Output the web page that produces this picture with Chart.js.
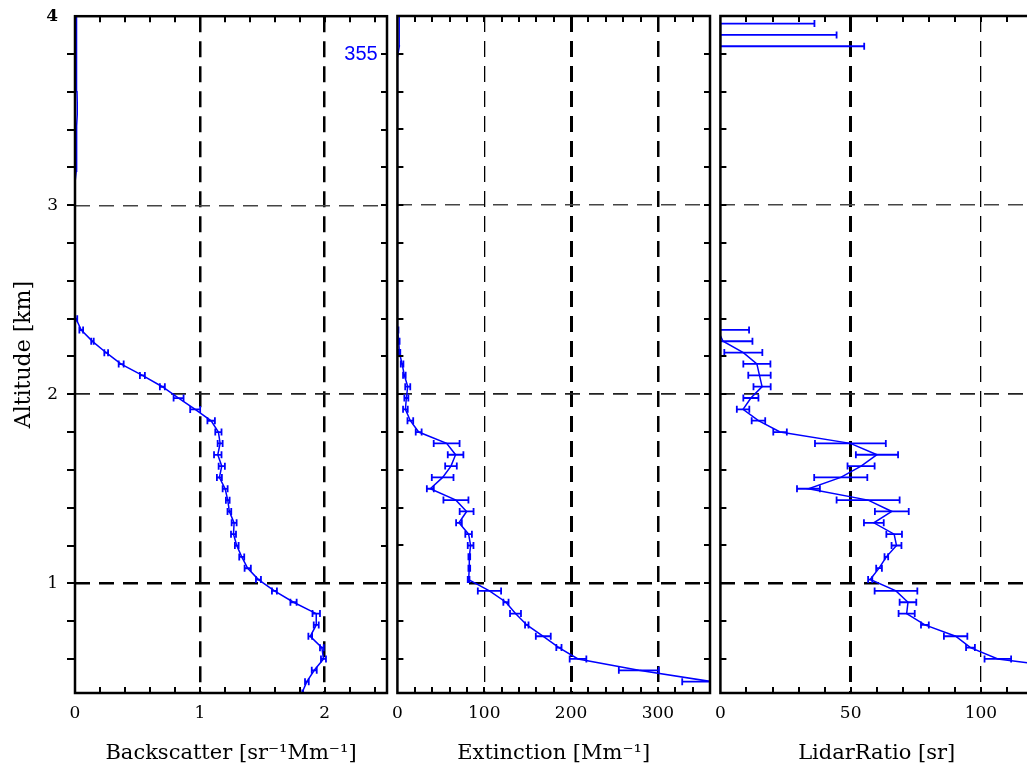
<!DOCTYPE html>
<html>
<head>
<meta charset="utf-8">
<script src="https://cdn.jsdelivr.net/npm/chart.js@4.4.1/dist/chart.umd.min.js"></script>
<style>
  html, body { margin: 0; padding: 0; background: #fff; overflow: hidden; }
  #wrap { position: relative; width: 1027px; height: 769px; overflow: hidden; }
  canvas { position: absolute; }
</style>
</head>
<body>
<div id="wrap">
  <canvas id="bsc" width="392" height="780" style="left:0;top:-11px"></canvas>
  <canvas id="ext" width="333" height="769" style="left:382px;top:0"></canvas>
  <canvas id="lr" width="335" height="769" style="left:705px;top:0"></canvas>
</div>
<script>
// --- data: one row per altitude bin (km) ---------------------------
const altitude = [
  0.42, 0.48, 0.54, 0.60, 0.66, 0.72, 0.78, 0.84, 0.90, 0.96,
  1.02, 1.08, 1.14, 1.20, 1.26, 1.32, 1.38, 1.44, 1.50, 1.56,
  1.62, 1.68, 1.74, 1.80, 1.86, 1.92, 1.98, 2.04, 2.10, 2.16,
  2.22, 2.28, 2.34, 2.40, 2.46, 2.52, 2.58, 2.64, 2.70, 2.76,
  2.82, 2.88, 2.94, 3.00, 3.06, 3.12, 3.18, 3.24, 3.30, 3.36,
  3.42, 3.48, 3.54, 3.60, 3.66, 3.72, 3.78, 3.84, 3.90, 3.96,
  4.02
];

// backscatter [sr-1 Mm-1]
const backscatter = [
  1.818, 1.858, 1.917, 1.991, 1.978, 1.885, 1.933, 1.933, 1.751, 1.598,
  1.470, 1.384, 1.336, 1.296, 1.270, 1.275, 1.237, 1.224, 1.203, 1.157,
  1.176, 1.144, 1.163, 1.149, 1.091, 0.963, 0.830, 0.700, 0.540, 0.370,
  0.250, 0.140, 0.050, 0.008, 0, 0, 0, 0, 0, 0,
  0, 0, 0, 0, 0, 0, 0.010, 0.012, 0.012, 0.013,
  0.015, 0.018, 0.018, 0.016, 0.012, 0.012, 0.013, 0.012, 0.013, 0.012,
  0.012
];
const backscatterErr = [
  0.010, 0.015, 0.020, 0.020, 0.015, 0.015, 0.020, 0.030, 0.025, 0.020,
  0.020, 0.025, 0.020, 0.015, 0.020, 0.020, 0.015, 0.015, 0.020, 0.020,
  0.025, 0.030, 0.020, 0.025, 0.030, 0.040, 0.040, 0.020, 0.020, 0.020,
  0.015, 0.010, 0.015, 0.010
];

// extinction [Mm-1]
const extinction = [
  null, 362, 278, 208, 186, 168, 149, 136, 125, 106,
  82, 82.8, 82.8, 84.3, 82, 70.9, 79.7, 67.4, 37.9, 52.1,
  61.7, 67.0, 56.7, 24.5, 14.9, 9.2, 10.3, 11.9, 8.0, 5.4,
  2.3, 1.5, 0.4, 0, 0, 0, 0, 0, 0, 0,
  0, 0, 0, 0, 0, 0, 0, 0, 0, 0,
  0, 0, 0, 0, 0, 0, 0, 2.2, 2.0, 2.2,
  2.0
];
const extinctionErr = [
  0, 34, 23, 9.6, 3, 8.6, 2, 6.3, 3, 13.4,
  1, 1, 1, 3.3, 3.8, 3.3, 8, 14.4, 4, 12.5,
  6.7, 9, 14.9, 3.4, 3.3, 2.7, 2.3, 2.9, 1.5, 1.5,
  1, 1, 0.8
];

// lidar ratio [sr]
const lidarRatio = [
  null, null, 140, 106.5, 96.0, 90.3, 78.5, 71.5, 72.0, 67.4,
  57.5, 60.9, 63.7, 67.6, 66.7, 58.9, 65.8, 56.7, 33.8, 46.2,
  54.0, 60.1, 49.9, 22.9, 14.6, 8.7, 11.7, 16.0, 15.0, 14.0,
  8.8, 1.0, -1.0, null, null, null, null, null, null, null,
  null, null, null, null, null, null, null, null, null, null,
  null, null, null, null, null, null, null, 0, 0, 0,
  null
];
const lidarRatioErr = [
  0, 0, 0, 5.1, 1.7, 4.5, 1.5, 3.1, 3.2, 8.2,
  0.8, 1.1, 0.7, 1.9, 3.0, 3.8, 6.5, 12.1, 4.4, 10.2,
  5.2, 8.1, 13.6, 2.6, 2.6, 2.4, 2.9, 3.3, 4.3, 5.2,
  7.3, 11.3, 12, 0, 0, 0, 0, 0, 0, 0,
  0, 0, 0, 0, 0, 0, 0, 0, 0, 0,
  0, 0, 0, 0, 0, 0, 0, 55.2, 44.6, 36.1
];

// tick labels
const altTicks = [1, 2, 3, 4];
const bscTicks = [0, 1, 2];
const extTicks = [0, 100, 200, 300];
const lrTicks = [0, 50, 100];

const BLUE = '#0000ff';
const SERIF = '"DejaVu Serif", "Liberation Serif", serif';

// error bars, inward minor ticks and the frame, drawn over the data
const profilePlugin = {
  id: 'profile',
  afterDatasetsDraw(chart, args, opts) {
    const { ctx, chartArea: a, scales: { x, y } } = chart;

    ctx.save();
    ctx.beginPath();
    ctx.rect(a.left, a.top, a.right - a.left, a.bottom - a.top);
    ctx.clip();
    ctx.strokeStyle = BLUE;
    ctx.lineWidth = 1.8;
    opts.values.forEach((v, i) => {
      const e = opts.errors[i];
      if (v === null || !e) return;
      const py = y.getPixelForValue(altitude[i]);
      const x1 = x.getPixelForValue(v - e);
      const x2 = x.getPixelForValue(v + e);
      ctx.beginPath();
      ctx.moveTo(x1, py); ctx.lineTo(x2, py);
      ctx.moveTo(x1, py - 3.5); ctx.lineTo(x1, py + 3.5);
      ctx.moveTo(x2, py - 3.5); ctx.lineTo(x2, py + 3.5);
      ctx.stroke();
    });
    ctx.restore();

    ctx.save();
    ctx.strokeStyle = '#000';
    ctx.lineWidth = 2;
    ctx.beginPath();
    for (let v = x.min + opts.xStep; v < x.max - 1e-6; v += opts.xStep) {
      const px = Math.round(x.getPixelForValue(v));
      ctx.moveTo(px, a.top); ctx.lineTo(px, a.top + 6);
      ctx.moveTo(px, a.bottom); ctx.lineTo(px, a.bottom - 6);
    }
    for (let v = 0.6; v < 3.99; v += 0.2) {
      const py = Math.round(y.getPixelForValue(v));
      ctx.moveTo(a.left, py); ctx.lineTo(a.left + (opts.outLeft ? -8 : 6), py);
      ctx.moveTo(a.right, py); ctx.lineTo(a.right - 6, py);
    }
    ctx.stroke();
    ctx.lineWidth = 2.5;
    ctx.strokeRect(a.left, a.top, a.right - a.left, a.bottom - a.top);

    if (opts.tag) {
      ctx.fillStyle = BLUE;
      ctx.font = '20px "Liberation Sans", Arial, sans-serif';
      ctx.textAlign = 'center';
      ctx.textBaseline = 'middle';
      ctx.fillText(opts.tag, a.right - 26, a.top + 38);
    }
    ctx.restore();
  }
};

const yGridStyle = { 1: [2.5, '#000'], 2: [1.8, '#222'], 3: [1.5, '#444'] };

function makePanel(id, p) {
  const points = p.values.map((v, i) => ({ x: v, y: altitude[i] }));
  return new Chart(document.getElementById(id), {
    type: 'scatter',
    data: {
      datasets: [{
        data: points,
        showLine: true,
        spanGaps: false,
        borderColor: BLUE,
        borderWidth: 1.5,
        pointRadius: 0,
        tension: 0
      }]
    },
    options: {
      responsive: false,
      animation: false,
      events: [],
      layout: { padding: p.padding },
      scales: {
        x: {
          type: 'linear',
          min: p.min,
          max: p.max,
          afterBuildTicks: (s) => { s.ticks = p.ticks.map(v => ({ value: v })); },
          afterFit: (s) => { s.height = 76; },
          grid: {
            drawTicks: false,
            lineWidth: (c) => (p.grid[c.tick?.value] || [0])[0],
            color: (c) => (p.grid[c.tick?.value] || [0, 'rgba(0,0,0,0)'])[1]
          },
          border: { display: false, dash: [16, 9] },
          ticks: {
            padding: 10, color: '#000', maxRotation: 0, autoSkip: false,
            font: { family: SERIF, size: 17 }
          },
          title: {
            display: true, text: p.title, color: '#000',
            font: { family: SERIF, size: 21 },
            padding: { top: 0, bottom: 3 }
          }
        },
        y: {
          type: 'linear',
          min: 0.42,
          max: 4.0,
          afterBuildTicks: (s) => { s.ticks = altTicks.map(v => ({ value: v })); },
          afterFit: (s) => { s.width = p.first ? 75 : 0; },
          grid: {
            drawTicks: false,
            lineWidth: (c) => (yGridStyle[c.tick?.value] || [0])[0],
            color: (c) => (yGridStyle[c.tick?.value] || [0, 'rgba(0,0,0,0)'])[1]
          },
          border: { display: false, dash: [15, 9] },
          ticks: {
            display: p.first, padding: 17, color: '#000',
            font: (c) => ({ family: SERIF, size: 17, weight: c.tick?.value === 4 ? 'bold' : 'normal' })
          },
          title: {
            display: p.first, text: 'Altitude [km]', color: '#000',
            font: { family: SERIF, size: 22 },
            padding: { top: 11, bottom: 0 }
          }
        }
      },
      plugins: {
        legend: { display: false },
        tooltip: { enabled: false },
        profile: {
          values: p.values, errors: p.errors, xStep: p.xStep,
          outLeft: p.first, tag: p.tag
        }
      }
    },
    plugins: [profilePlugin]
  });
}

makePanel('bsc', {
  values: backscatter, errors: backscatterErr, min: 0, max: 2.5, ticks: bscTicks, xStep: 0.2,
  grid: { 1: [2.5, '#000'], 2: [2.5, '#000'] },
  title: 'Backscatter [sr⁻¹Mm⁻¹]', first: true, tag: '355',
  padding: { top: 5, right: 5, left: 0, bottom: 0 }
});
makePanel('ext', {
  values: extinction, errors: extinctionErr, min: 0, max: 360, ticks: extTicks, xStep: 20,
  grid: { 100: [1.3, '#000'], 200: [3, '#000'], 300: [2.5, '#000'] },
  title: 'Extinction [Mm⁻¹]', first: false,
  padding: { top: 16, right: 5, left: 5, bottom: 0 }
});
makePanel('lr', {
  values: lidarRatio, errors: lidarRatioErr, min: 0, max: 120, ticks: lrTicks, xStep: 10,
  grid: { 50: [3, '#000'], 100: [1.3, '#000'] },
  title: 'LidarRatio [sr]', first: false,
  padding: { top: 16, right: 7, left: 5, bottom: 0 }
});
</script>
</body>
</html>
